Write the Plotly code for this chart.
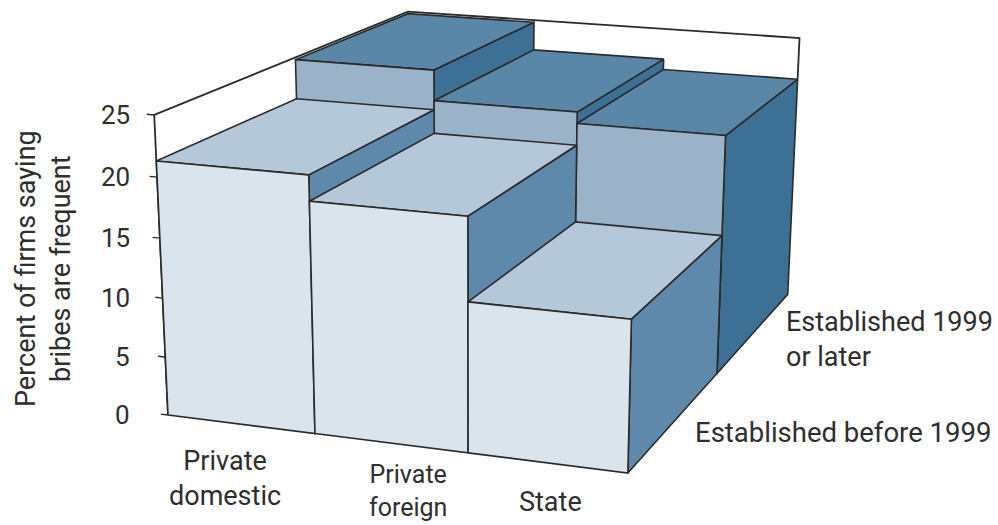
import plotly.graph_objects as go

categories = ["Private<br>domestic", "Private<br>foreign", "State"]
before_1999 = [21.3, 19.2, 12.4]
after_1999 = [24.8, 22.1, 21.1]
series_names = ["Established before 1999", "Established 1999<br>or later"]
z_ticks = [0, 5, 10, 15, 20, 25]
z_top = 25
y_title = "Percent of firms saying<br>bribes are frequent"

FRONT = ["#dae4ed", "#9ab3c9"]
TOP = ["#b5c8da", "#5a86a8"]
SIDE = ["#5f89aa", "#3c7094"]
EDGE = "#2a2a2a"
TEXT = "#2e2e2e"
FONT = "Roboto, sans-serif"

# Perspective camera of the drawing: (category, depth, value) -> page pixels
CAM_X = (140.6, 171.2, -0.817, 168.0)
CAM_Y = (9.78, -48.0, -12.2, 415.0)
CAM_W = (-0.0202, 0.122, -0.00172, 1.0)


def project(x, y, z):
    w = CAM_W[0] * x + CAM_W[1] * y + CAM_W[2] * z + CAM_W[3]
    return ((CAM_X[0] * x + CAM_X[1] * y + CAM_X[2] * z + CAM_X[3]) / w,
            (CAM_Y[0] * x + CAM_Y[1] * y + CAM_Y[2] * z + CAM_Y[3]) / w)


fig = go.Figure()


def path(points, fill=None, width=1.6):
    pts = [project(*p) for p in points]
    if fill:
        pts.append(pts[0])
    fig.add_trace(go.Scatter(
        x=[p[0] for p in pts], y=[p[1] for p in pts], mode="lines",
        line=dict(color=EDGE, width=width), fill="toself" if fill else "none",
        fillcolor=fill, hoverinfo="skip", showlegend=False))


n = len(categories)
path([(0, 0, 0), (0, 0, z_top), (0, 2, z_top), (n, 2, z_top), (n, 2, after_1999[-1])], width=1.8)
for t in z_ticks:
    path([(-0.05, 0, t), (0, 0, t)], width=1.4)

for row, vals in reversed(list(enumerate([before_1999, after_1999]))):
    for i, h in enumerate(vals):
        x0, x1, y0, y1 = i, i + 1, row, row + 1
        path([(x1, y0, 0), (x1, y1, 0), (x1, y1, h), (x1, y0, h)], SIDE[row])
        path([(x0, y0, h), (x1, y0, h), (x1, y1, h), (x0, y1, h)], TOP[row])
        path([(x0, y0, 0), (x1, y0, 0), (x1, y0, h), (x0, y0, h)], FRONT[row])

ann = []
for t in z_ticks:
    ann.append(dict(x=132, y=project(0, 0, t)[1], xref="x", yref="y", text=str(t), showarrow=False,
                    xanchor="right", yanchor="middle", font=dict(size=26, color=TEXT, family=FONT)))
for text, cx, cy, fs in zip(categories, [225, 408, 550], [478, 491, 502], [27, 25, 27]):
    ann.append(dict(x=cx, y=cy, xref="x", yref="y", text=text, showarrow=False, xanchor="center",
                    yanchor="middle", font=dict(size=fs, color=TEXT, family=FONT)))
ann.append(dict(x=784, y=339, xref="x", yref="y", text=series_names[1], showarrow=False, xanchor="left",
                yanchor="middle", align="left", font=dict(size=27, color=TEXT, family=FONT)))
ann.append(dict(x=693, y=432, xref="x", yref="y", text=series_names[0], showarrow=False, xanchor="left",
                yanchor="middle", align="left", font=dict(size=27.5, color=TEXT, family=FONT)))
ann.append(dict(x=43, y=269, xref="x", yref="y", text=y_title, showarrow=False, textangle=-90, xanchor="center",
                yanchor="middle", font=dict(size=27, color=TEXT, family=FONT)))

fig.update_layout(
    width=998, height=525, margin=dict(l=0, r=0, t=0, b=0), paper_bgcolor="white", plot_bgcolor="white",
    showlegend=False, annotations=ann,
    xaxis=dict(visible=False, range=[0, 998], fixedrange=True),
    yaxis=dict(visible=False, range=[525, 0], fixedrange=True),
)
fig.write_html("out.html", post_script="document.body.style.margin='0';", config=dict(displayModeBar=False))
